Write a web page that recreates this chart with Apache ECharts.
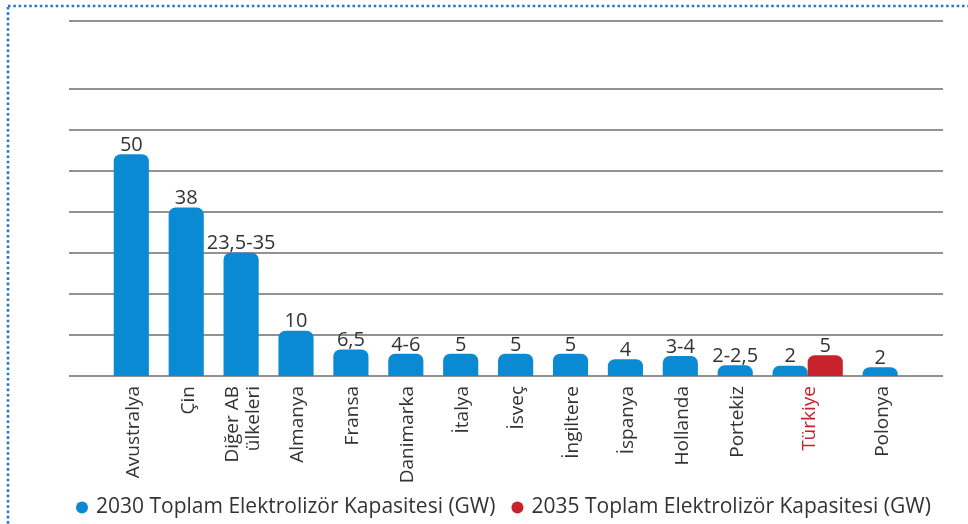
<!DOCTYPE html>
<html>
<head>
<meta charset="utf-8">
<script src="https://cdn.jsdelivr.net/npm/echarts@6/dist/echarts.min.js"></script>
<style>
  html, body { margin: 0; padding: 0; background: #fff; }
  #chart { width: 968px; height: 524px; }
</style>
</head>
<body>
<div id="chart"></div>
<script>
// ülkeler ve değerler
const countries = ['Avustralya', 'Çin', 'Diğer AB\nülkeleri', 'Almanya', 'Fransa', 'Danimarka', 'İtalya', 'İsveç', 'İngiltere', 'İspanya', 'Hollanda', 'Portekiz', 'Türkiye', 'Polonya'];
const values2030 = [50, 38, 27.8, 10.2, 6, 5, 5, 5, 5, 3.8, 4.5, 2.4, 2.3, 2];
const labels2030 = ['50', '38', '23,5-35', '10', '6,5', '4-6', '5', '5', '5', '4', '3-4', '2-2,5', '2', '2'];
const values2035 = [null, null, null, null, null, null, null, null, null, null, null, null, 4.7, null];
const labels2035 = ['', '', '', '', '', '', '', '', '', '', '', '', '5', ''];
const seriesNames = ['2030 Toplam Elektrolizör Kapasitesi (GW)', '2035 Toplam Elektrolizör Kapasitesi (GW)'];
const highlight = 'Türkiye';

const BLUE = '#0a8ad2';
const RED = '#c8232b';
const TEXT = '#333333';
const GRID = '#929292';
const FONT = '"Open Sans", sans-serif';
const BAR_W = 0.64; // bar genişliği (x ekseni birimi)

// çubuk konumlarını hesapla: Türkiye grubunda iki çubuk yan yana
const bars2030 = [];
const bars2035 = [];
const centers = [];
let cursor = 0;
countries.forEach((name, i) => {
  const vals = [values2030[i], values2035[i]];
  const n = vals.filter(v => v != null).length;
  let j = 0;
  if (vals[0] != null) { bars2030.push({ value: [cursor + j * BAR_W, vals[0]], label: labels2030[i] }); j++; }
  if (vals[1] != null) { bars2035.push({ value: [cursor + j * BAR_W, vals[1]], label: labels2035[i] }); j++; }
  centers.push([cursor + (n - 1) * BAR_W / 2, 0]);
  cursor += 1 + (n - 1) * BAR_W;
});

const makeRender = (list, color) => (params, api) => {
  const x = api.value(0);
  const v = api.value(1);
  const base = api.coord([x, 0]);
  const top = api.coord([x, v]);
  const w = api.size([BAR_W, 0])[0];
  return {
    type: 'group',
    children: [
      {
        type: 'rect',
        shape: { x: top[0] - w / 2, y: top[1], width: w, height: base[1] - top[1], r: [7, 7, 0, 0] },
        style: { fill: color }
      },
      {
        type: 'text',
        x: top[0],
        y: top[1] + 1,
        style: {
          text: list[params.dataIndex].label,
          fill: TEXT,
          font: '20px ' + FONT,
          align: 'center',
          verticalAlign: 'bottom'
        }
      }
    ]
  };
};

// kategori etiketleri (dikey)
const renderCategory = (params, api) => {
  const p = api.coord([api.value(0), 0]);
  const name = countries[params.dataIndex];
  return {
    type: 'text',
    x: p[0] + 2,
    y: p[1] + 10,
    rotation: Math.PI / 2,
    style: {
      text: name,
      fill: name === highlight ? RED : TEXT,
      font: '19px ' + FONT,
      lineHeight: 21,
      align: 'right',
      verticalAlign: 'middle'
    }
  };
};

// 0..64.75 arası çizgiler + üst çizgi (74'teki çizgi yok)
const gridColors = [GRID, GRID, GRID, GRID, GRID, GRID, GRID, GRID, 'rgba(0,0,0,0)', GRID];

const chart = echarts.init(document.getElementById('chart'));

chart.setOption({
  animation: false,
  color: [BLUE, RED],
  graphic: [{
    type: 'rect',
    shape: { x: 8, y: 6, width: 1000, height: 560 },
    style: { fill: 'none', stroke: '#2a78c2', lineWidth: 2.6, lineDash: [2.6, 2.7] },
    silent: true
  }],
  grid: { left: 69, right: 25, top: 21, bottom: 148 },
  legend: {
    data: seriesNames,
    icon: 'circle',
    left: 71,
    top: 492,
    itemWidth: 18,
    itemHeight: 12,
    itemGap: 16,
    textStyle: { fontSize: 21, color: TEXT, fontFamily: FONT }
  },
  xAxis: {
    type: 'value',
    min: -1.135,
    max: 14.785,
    axisLine: { show: false },
    axisTick: { show: false },
    splitLine: { show: false },
    axisLabel: { show: false }
  },
  yAxis: {
    type: 'value',
    min: 0,
    max: 80,
    interval: 9.25,
    axisLine: { show: false },
    axisTick: { show: false },
    axisLabel: { show: false },
    splitLine: { lineStyle: { color: gridColors, width: 2 } }
  },
  series: [
    {
      name: seriesNames[0],
      type: 'custom',
      itemStyle: { color: BLUE },
      renderItem: makeRender(bars2030, BLUE),
      data: bars2030.map(b => b.value)
    },
    {
      name: seriesNames[1],
      type: 'custom',
      itemStyle: { color: RED },
      renderItem: makeRender(bars2035, RED),
      data: bars2035.map(b => b.value)
    },
    {
      name: 'kategoriler',
      type: 'custom',
      silent: true,
      clip: false,
      renderItem: renderCategory,
      data: centers
    }
  ]
});
</script>
</body>
</html>
